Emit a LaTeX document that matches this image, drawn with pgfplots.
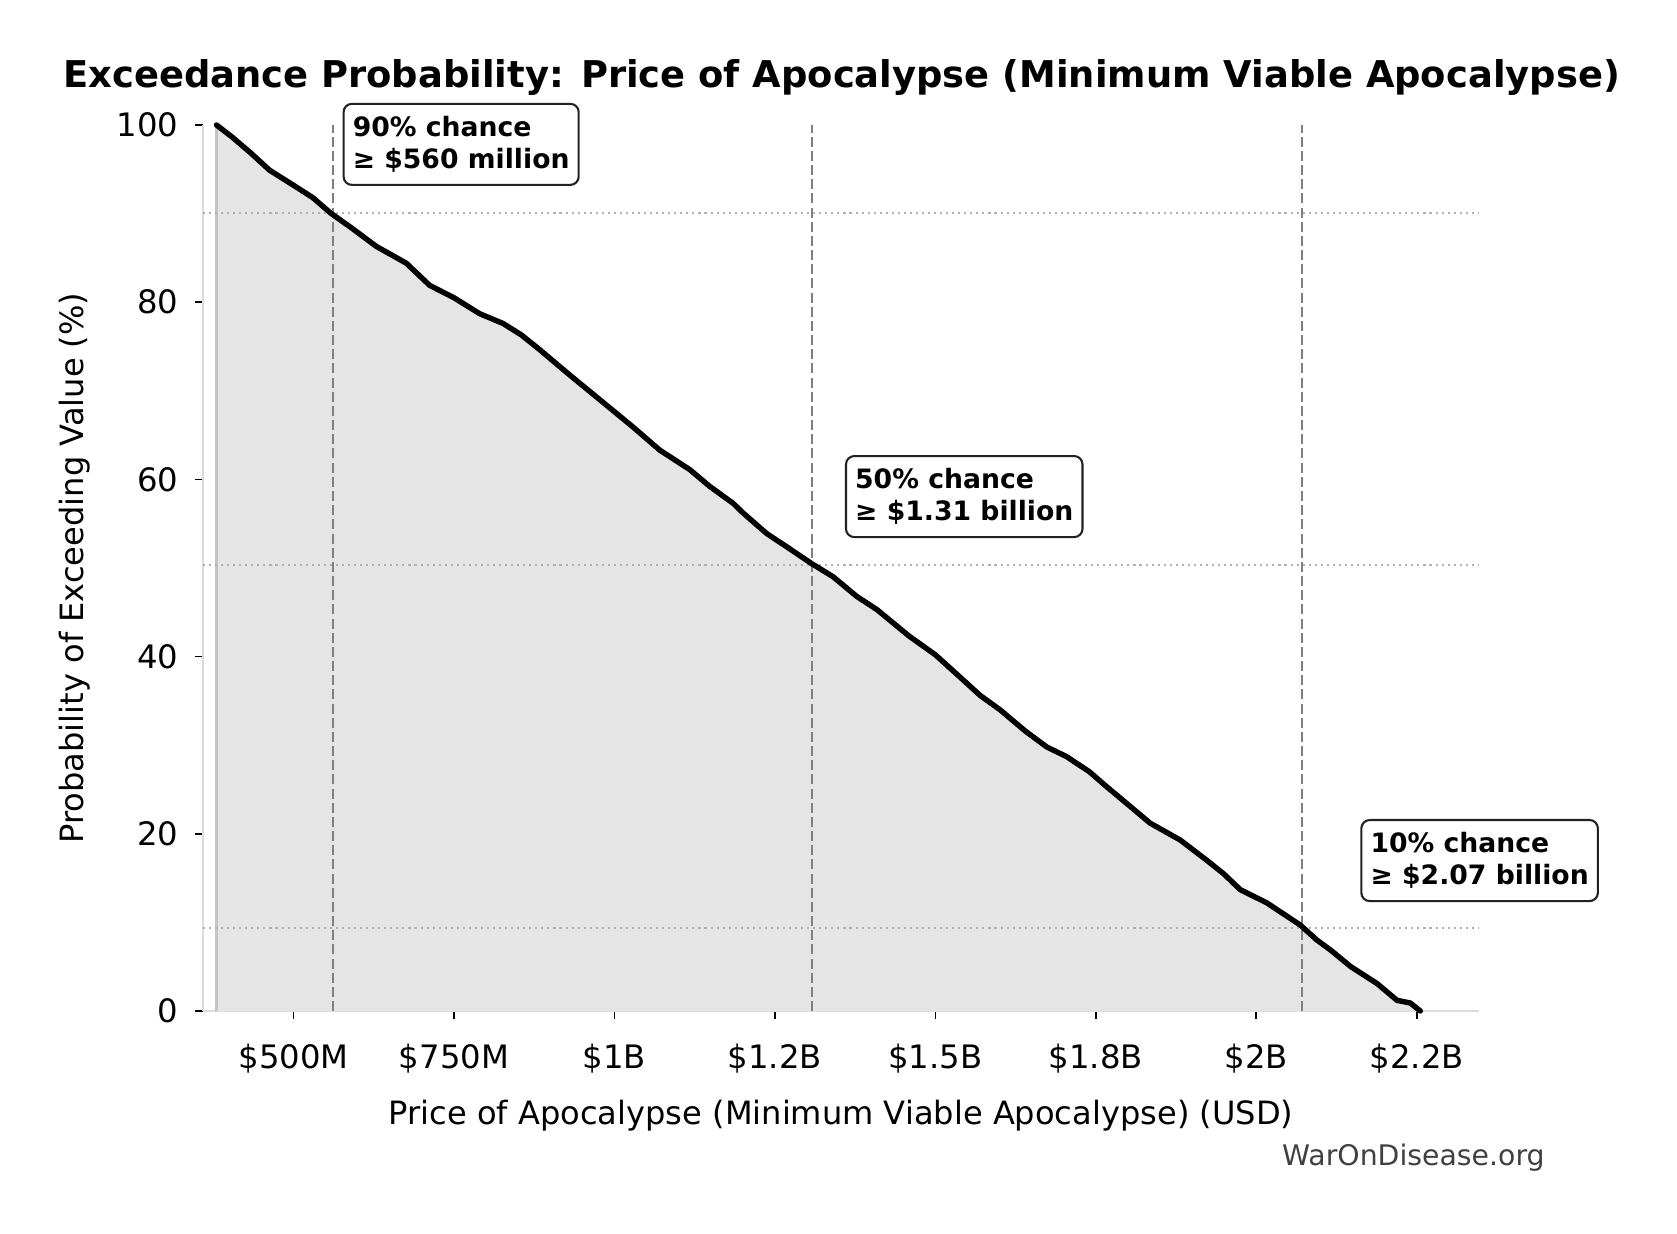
\documentclass[border=0pt]{standalone}
\usepackage{fontspec}
\setmainfont{DejaVu Sans}
\usepackage{pgfplots}
\pgfplotsset{compat=1.18}
\definecolor{fillgray}{HTML}{E5E5E5}
\definecolor{spinegray}{HTML}{DCDCDC}
\definecolor{dashgray}{HTML}{808080}
\definecolor{dotgray}{HTML}{B0B0B0}
\definecolor{edgegray}{HTML}{C4C4C4}
\definecolor{boxedge}{HTML}{222222}
\definecolor{wmgray}{HTML}{404040}
\begin{document}
\begin{tikzpicture}
\useasboundingbox (-97.44pt,-106.56pt) rectangle (707.52pt,485.28pt);
\begin{axis}[
  at={(0,0)}, anchor=south west,
  width=612.5pt, height=425.3pt, scale only axis,
  xmin=359, xmax=2347, ymin=0, ymax=100,
  axis x line*=bottom, axis y line*=left,
  axis line style={draw=spinegray, line width=1pt, -},
  xtick={500,750,1000,1250,1500,1750,2000,2250},
  xticklabels={\$500M,\$750M,\$1B,\$1.2B,\$1.5B,\$1.8B,\$2B,\$2.2B},
  ytick={0,20,40,60,80,100},
  tick align=outside, major tick length=3.8pt,
  tick style={black, line width=0.8pt},
  /pgf/number format/assume math mode=true,
  ticklabel style={font=\fontsize{15.5}{18}\selectfont},
  xticklabel style={yshift=-8.7pt},
  yticklabel style={xshift=-4.6pt},
  xlabel={Price of Apocalypse (Minimum Viable Apocalypse) (USD)},
  ylabel={Probability of Exceeding Value (\%)},
  xlabel style={font=\fontsize{15.4}{18}\selectfont, at={(axis description cs:0.5,-0.1286)}, anchor=base},
  ylabel style={font=\fontsize{15.4}{18}\selectfont, at={(axis description cs:-0.0940,0.5)}, anchor=base},
  title={\bfseries Exceedance Probability: Price of Apocalypse (Minimum Viable Apocalypse)},
  title style={font=\fontsize{17.7}{20}\selectfont, at={(axis description cs:0.5004,1.0282)}, anchor=base},
  clip=false,
  axis on top=false,
]
\addplot[fill=fillgray, draw=none, forget plot] table {
x y
380 100
405 98.6
434 96.8
462.6 94.9
504.2 93.0
530 91.8
558.8 90.0
590 88.4
628.9 86.3
675.7 84.4
712 81.9
750 80.5
790 78.7
826.3 77.6
855 76.3
880.9 74.8
930 71.8
977.1 69.0
1029.1 65.9
1070.6 63.3
1117.4 61.1
1148.6 59.2
1184.9 57.3
1200.5 56.2
1237 53.9
1268.2 52.4
1307.1 50.5
1340.9 49.0
1377.3 46.8
1409 45.3
1459.3 42.3
1500 40.2
1542.7 37.4
1570 35.6
1600.7 34.0
1640 31.6
1673.5 29.8
1704.7 28.7
1740 27.0
1767.1 25.3
1803.4 23.1
1834.6 21.2
1881.4 19.3
1923 17.0
1948.9 15.5
1974.9 13.7
2016.5 12.2
2068.5 9.7
2094.5 8.0
2115.3 6.9
2147.3 5.0
2188.1 3.1
2219.3 1.2
2240 0.9
2255.5 0
} \closedcycle;
\draw[edgegray, line width=1pt] (axis cs:380,0) -- (axis cs:380,100);
% reference lines
\addplot[dotgray, line width=0.9pt, dash pattern=on 1pt off 1.9pt, forget plot] coordinates {(359,90.1) (2347,90.1)};
\addplot[dotgray, line width=0.9pt, dash pattern=on 1pt off 1.9pt, forget plot] coordinates {(359,50.3) (2347,50.3)};
\addplot[dotgray, line width=0.9pt, dash pattern=on 1pt off 1.9pt, forget plot] coordinates {(359,9.4) (2347,9.4)};
\addplot[dashgray, line width=1pt, dash pattern=on 4.8pt off 2pt, forget plot] coordinates {(561.9,0) (561.9,100)};
\addplot[dashgray, line width=1pt, dash pattern=on 4.8pt off 2pt, forget plot] coordinates {(1308,0) (1308,100)};
\addplot[dashgray, line width=1pt, dash pattern=on 4.8pt off 2pt, forget plot] coordinates {(2071,0) (2071,100)};
% curve
\addplot[black, line width=2.6pt, line join=round, line cap=round] table {
x y
380 100
405 98.6
434 96.8
462.6 94.9
504.2 93.0
530 91.8
558.8 90.0
590 88.4
628.9 86.3
675.7 84.4
712 81.9
750 80.5
790 78.7
826.3 77.6
855 76.3
880.9 74.8
930 71.8
977.1 69.0
1029.1 65.9
1070.6 63.3
1117.4 61.1
1148.6 59.2
1184.9 57.3
1200.5 56.2
1237 53.9
1268.2 52.4
1307.1 50.5
1340.9 49.0
1377.3 46.8
1409 45.3
1459.3 42.3
1500 40.2
1542.7 37.4
1570 35.6
1600.7 34.0
1640 31.6
1673.5 29.8
1704.7 28.7
1740 27.0
1767.1 25.3
1803.4 23.1
1834.6 21.2
1881.4 19.3
1923 17.0
1948.9 15.5
1974.9 13.7
2016.5 12.2
2068.5 9.7
2094.5 8.0
2115.3 6.9
2147.3 5.0
2188.1 3.1
2219.3 1.2
2240 0.9
2255.5 0
};
% annotations
\tikzset{annbox/.style={draw=boxedge, line width=1pt, fill=white, rounded corners=4pt, anchor=north west, align=left, inner xsep=4.4pt, inner ysep=3pt, minimum height=38.9pt, font=\fontsize{12.8}{15.4}\selectfont\bfseries}}
\node[annbox] at (axis cs:576.4,102.5) {90\% chance\\≥ \$560 million};
\node[annbox] at (axis cs:1359.1,62.75) {50\% chance\\≥ \$1.31 billion};
\node[annbox] at (axis cs:2162,21.67) {10\% chance\\≥ \$2.07 billion};
\node[anchor=base east, text=wmgray, font=\fontsize{13.6}{16}\selectfont, inner sep=0pt] at (axis description cs:1.0517,-0.1738) {WarOnDisease.org};
\end{axis}
\end{tikzpicture}
\end{document}
